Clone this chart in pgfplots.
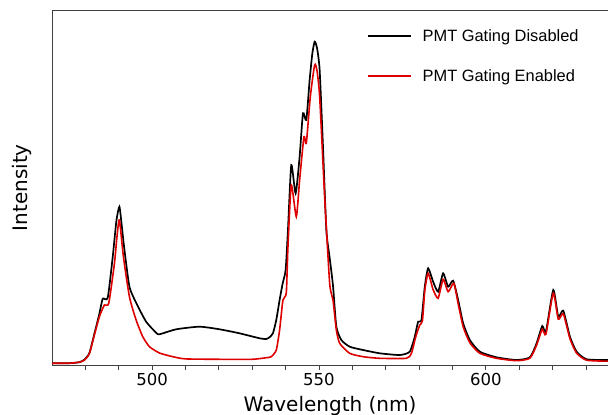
\documentclass[border=0pt]{standalone}
\usepackage{fontspec}
\setmainfont{DejaVu Sans}
\newfontfamily\legfont{Liberation Sans}
\usepackage{pgfplots}
\pgfplotsset{compat=1.18}
\definecolor{specred}{RGB}{222,0,0}

\begin{document}
\begin{tikzpicture}[x=1pt,y=1pt]
\begin{axis}[at={(52pt,49.3pt)},anchor=south west,scale only axis,width=556pt,height=355.7pt,
  xmin=470,xmax=636.6,ymin=0,ymax=355.7,
  axis x line=box,axis y line=left,axis line style={-,black!75,line width=0.9pt},
  xtick={500,550,600},minor xtick={480,490,510,520,530,540,560,570,580,590,610,620,630},
  xtick pos=bottom,tick align=outside,ytick=\empty,
  major tick length=4pt,minor tick length=4pt,every tick/.style={black!75,line width=0.8pt},
  /pgf/number format/assume math mode=true,
  tick label style={font=\fontsize{16.5}{18}\selectfont},
  xlabel={Wavelength (nm)},ylabel={Intensity},
  label style={font=\fontsize{20}{22}\selectfont},
  xlabel style={at={(axis description cs:0.5,0)},anchor=base,yshift=-46pt},
  ylabel style={at={(axis description cs:-0.054,0.5)},anchor=center},
  legend cell align=left,
  legend image code/.code={\draw[#1,line width=1.9pt] (0pt,0pt) -- (43.3pt,0pt); \path (52pt,0pt);},
  legend style={draw=none,fill=none,at={(axis description cs:0.566,0.952)},anchor=north west,
    font=\legfont\fontsize{16.4}{18}\selectfont,row sep=23pt,inner sep=0pt},
]
% PMT gating disabled
\addplot[black,line width=1.7pt,smooth,tension=0.35] coordinates {
(470,2.4) (475.2,2.5) (478.2,3.5) (479.7,6) (481.2,12.7) (482.7,32) (484.2,52) (485.2,67)
(486.7,68) (488.2,109) (489.3,145) (490.2,159) (490.9,140) (491.7,116) (493.2,79) (495.2,63)
(498.2,44) (501.2,33) (502.2,31.4) (507.2,36.4) (514.2,39) (520.2,36.4) (526.2,32.4) (532.2,27.4)
(534.2,26.7) (535.2,28.5) (536.2,32.4) (537.2,45.7) (538.2,65.7) (539.1,82) (540.0,95.7)
(540.7,135.7) (541.7,200.7) (543.0,172.4) (544.2,209) (545.2,252.4) (546.2,245.7) (547.2,285.7)
(548.0,312) (548.7,324) (549.4,318) (550.2,295.7) (551.2,219) (552.2,135.7) (553.2,108) (554.2,80)
(555.2,39) (556.7,25.7) (559.2,19) (563.2,15.7) (568.2,12.4) (574.2,10.7) (577.2,14) (578.7,29)
(579.7,44) (580.7,45.7) (581.7,79) (582.7,97.4) (584.2,84) (585.7,74) (587.2,92.4) (588.7,79)
(590.2,85) (591.7,65.7) (593.2,42.4) (595.2,25.7) (598.2,14) (603.2,8.4) (609.2,5.7) (613.2,8.4)
(615.2,22.4) (616.9,39.7) (618.0,34) (620.2,75.7) (621.7,49) (623.2,55) (625.2,29) (627.2,14)
(630.2,6.4) (636.6,5.7)
};
\addlegendentry{PMT Gating Disabled}
% PMT gating enabled
\addplot[specred,line width=1.6pt,smooth,tension=0.35] coordinates {
(470,2.4) (475.2,2.5) (478.2,3.5) (479.7,5.5) (481.2,12) (482.7,30.7) (484.2,49) (485.7,60.7)
(487.0,62.4) (488.7,102) (489.5,130) (490.2,145.7) (491.4,109) (493.2,69) (495.2,45.7) (497.2,29)
(499.2,19) (502.2,12.7) (506.2,9) (510,6.8) (520,6.4) (530,6.4) (534.2,8) (535.7,9) (537.2,15.7)
(538.2,35.7) (539.2,65.7) (540.2,72.7) (540.7,119) (541.7,180.7) (543.2,149) (544.2,185.7)
(545.5,229) (546.2,222.4) (547.4,269) (548.7,300.7) (549.4,295) (550.2,269) (551.7,169)
(553.2,82.4) (554.2,65.7) (555.2,35.7) (556.2,22.4) (559.2,12.4) (563.2,9) (568.2,7.4) (576.2,7.4)
(577.7,12.4) (579.0,29) (580.2,40.7) (581.0,45) (581.7,75) (582.7,92.4) (584.2,76) (585.7,67.4)
(587.2,86.4) (588.7,74) (590.4,82.4) (591.7,62) (593.2,39) (595.2,23) (598.2,12.4) (603.2,7.4)
(609.2,5) (613.2,7.5) (615.2,20.5) (616.9,36.5) (618.0,31.5) (620.2,72.5) (621.7,46.5) (623.2,52)
(625.2,27) (627.2,12.5) (630.2,5.5) (636.6,4.5)
};
\addlegendentry{PMT Gating Enabled}
\end{axis}
\pgfresetboundingbox
\useasboundingbox (0,0) rectangle (608,415);
\end{tikzpicture}
\end{document}
